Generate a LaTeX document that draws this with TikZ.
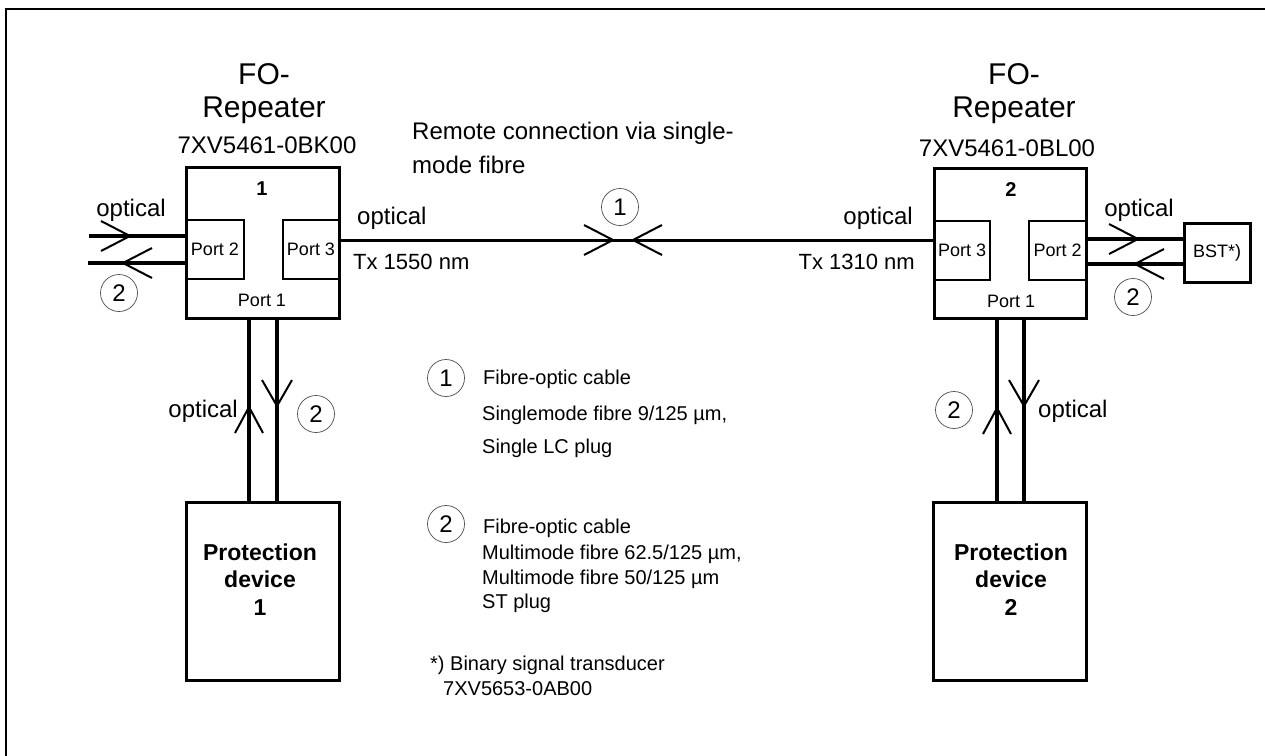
\documentclass[tikz,border=0pt]{standalone}
\usepackage{fontspec}
\setmainfont{Liberation Sans}
\begin{document}
\begin{tikzpicture}[x=1pt,y=-1pt,
  box/.style={draw, line width=3pt, inner sep=0pt, outer sep=0pt},
  port/.style={draw, line width=2.5pt, inner sep=0pt, outer sep=0pt, font=\fontsize{18}{20}\selectfont},
  fibre/.style={line width=4pt},
  single/.style={line width=3pt},
  tipline/.style={line width=2pt},
  num/.style={circle, draw=black!70, line width=0.7pt, minimum size=37pt, inner sep=0pt, font=\fontsize{24}{24}\selectfont},
  lbl/.style={inner sep=0pt, font=\fontsize{24}{24}\selectfont},
  leg/.style={inner sep=0pt, anchor=base west, font=\fontsize{20}{20}\selectfont},
  head/.style={inner sep=0pt, align=center, font=\fontsize{30}{33}\selectfont},
  bnum/.style={inner sep=0pt, anchor=base, font=\fontsize{20}{20}\selectfont\bfseries},
  prot/.style={inner sep=0pt, align=center, font=\fontsize{23}{27.5}\selectfont\bfseries},
  chevR/.pic={\draw[tipline] (-29,-15) -- (0,0) -- (-29,15);},
  chevL/.pic={\draw[tipline] (29,-15) -- (0,0) -- (29,15);},
  chevU/.pic={\draw[tipline] (-14,26) -- (0,0) -- (14,26);},
  chevD/.pic={\draw[tipline] (-15,-26) -- (0,0) -- (15,-26);}
]
\useasboundingbox (0,0) rectangle (1265,755);
% frame
\coordinate (fa) at (6,9);
\draw[line width=2.5pt] (fa |- 0,760) -- (fa) -- (1270,9);

% headers
\node[head, anchor=base] (h1) at (264,117) {FO-\\Repeater};
\node[lbl, anchor=base] (c1) at (267,153) {7XV5461-0BK00};
\node[head, anchor=base] (h2) at (1014,117) {FO-\\Repeater};
\node[lbl, anchor=base] (c2) at (1007,156) {7XV5461-0BL00};
\node[lbl, anchor=base west] (remote) at (412,139) {Remote connection via single-};
\node[lbl, anchor=base west] (remote2) at (412,173) {mode fibre};

% repeater 1
\node[box, minimum width=153pt, minimum height=151pt] (rep1) at (262.5,242.5) {};
\node[port, minimum width=58pt, minimum height=59pt] (p12) at (215,249.5) {Port 2};
\node[port, minimum width=56pt, minimum height=59pt] (p13) at (311,249.5) {Port 3};
\node[bnum] (n1) at (262,195) {1};
\node[inner sep=0pt, anchor=base, font=\fontsize{18}{20}\selectfont] (p11) at (262,306) {Port 1};

% repeater 2
\node[box, minimum width=152pt, minimum height=150pt] (rep2) at (1010,243) {};
\node[port, minimum width=56pt, minimum height=59pt] (p23) at (962,250.5) {Port 3};
\node[port, minimum width=57pt, minimum height=59pt] (p22) at (1057.5,250.5) {Port 2};
\node[bnum] (n2) at (1011,196) {2};
\node[inner sep=0pt, anchor=base, font=\fontsize{18}{20}\selectfont] (p21) at (1011,307) {Port 1};

% BST
\node[box, minimum width=66pt, minimum height=59pt, font=\fontsize{18}{20}\selectfont] (bst) at (1217,252.5) {BST*)};

% protection devices
\node[box, minimum width=153pt, minimum height=178pt] (prot1) at (262.5,591) {};
\node[prot, anchor=base] (pt1) at (260,615) {Protection\\device\\1};
\node[box, minimum width=153pt, minimum height=178pt] (prot2) at (1009.5,591) {};
\node[prot, anchor=base] (pt2) at (1011,615) {Protection\\device\\2};

% left fibres
\coordinate (a1) at (89,236);
\coordinate (a2) at (88,263);
\draw[fibre] (a1) -- (a1 -| rep1.west);
\draw[fibre] (a2) -- (a2 -| rep1.west);
\pic at (130,236) {chevR};
\pic at (123,263) {chevL};
\node[lbl, anchor=base] (o1) at (131,216) {optical};
\node[num] (k1) at (119,293) {2};

% middle fibre
\coordinate (m) at (620,240);
\draw[single] (m -| rep1.east) -- (m -| rep2.west);
\pic at (613,240) {chevR};
\pic at (633,240) {chevL};
\node[num] (k2) at (620,207) {1};
\node[lbl, anchor=base west] (o2) at (357,224) {optical};
\node[inner sep=0pt, anchor=base west, font=\fontsize{22}{22}\selectfont] (tx1) at (353,269) {Tx 1550 nm};
\node[lbl, anchor=base east] (o3) at (913,224) {optical};
\node[inner sep=0pt, anchor=base east, font=\fontsize{22}{22}\selectfont] (tx2) at (915,269) {Tx 1310 nm};

% right fibres
\coordinate (b1) at (1150,239);
\coordinate (b2) at (1150,264);
\draw[fibre] (b1 -| rep2.east) -- (b1 -| bst.west);
\draw[fibre] (b2 -| rep2.east) -- (b2 -| bst.west);
\pic at (1138,239) {chevR};
\pic at (1135,264) {chevL};
\node[lbl, anchor=base] (o4) at (1139,216) {optical};
\node[num] (k3) at (1133,297) {2};

% vertical fibres left
\coordinate (v1) at (249,400);
\coordinate (v2) at (277,400);
\draw[fibre] (v1 |- rep1.south) -- (v1 |- prot1.north);
\draw[fibre] (v2 |- rep1.south) -- (v2 |- prot1.north);
\pic at (249,407) {chevU};
\pic at (277,406) {chevD};
\node[lbl, anchor=base east] (o5) at (238,417) {optical};
\node[num] (k4) at (316,414) {2};

% vertical fibres right
\coordinate (v3) at (997,400);
\coordinate (v4) at (1024,400);
\draw[fibre] (v3 |- rep2.south) -- (v3 |- prot2.north);
\draw[fibre] (v4 |- rep2.south) -- (v4 |- prot2.north);
\pic at (997,408) {chevU};
\pic at (1024,406) {chevD};
\node[lbl, anchor=base west] (o6) at (1038,417) {optical};
\node[num] (k5) at (954,410) {2};

% legend
\node[num] (g1) at (446,378) {1};
\node[leg] (l1) at (483,384) {Fibre-optic cable};
\node[leg] (l2) at (482,420) {Singlemode fibre 9/125 µm,};
\node[leg] (l3) at (482,453) {Single LC plug};
\node[num] (g2) at (446,524) {2};
\node[leg] (l4) at (483,533) {Fibre-optic cable};
\node[leg] (l5) at (482,559) {Multimode fibre 62.5/125 µm,};
\node[leg] (l6) at (482,584) {Multimode fibre 50/125 µm};
\node[leg] (l7) at (482,608) {ST plug};
\node[leg] (l8) at (430,670) {*) Binary signal transducer};
\node[leg] (l9) at (443,695) {7XV5653-0AB00};
\end{tikzpicture}
\end{document}
